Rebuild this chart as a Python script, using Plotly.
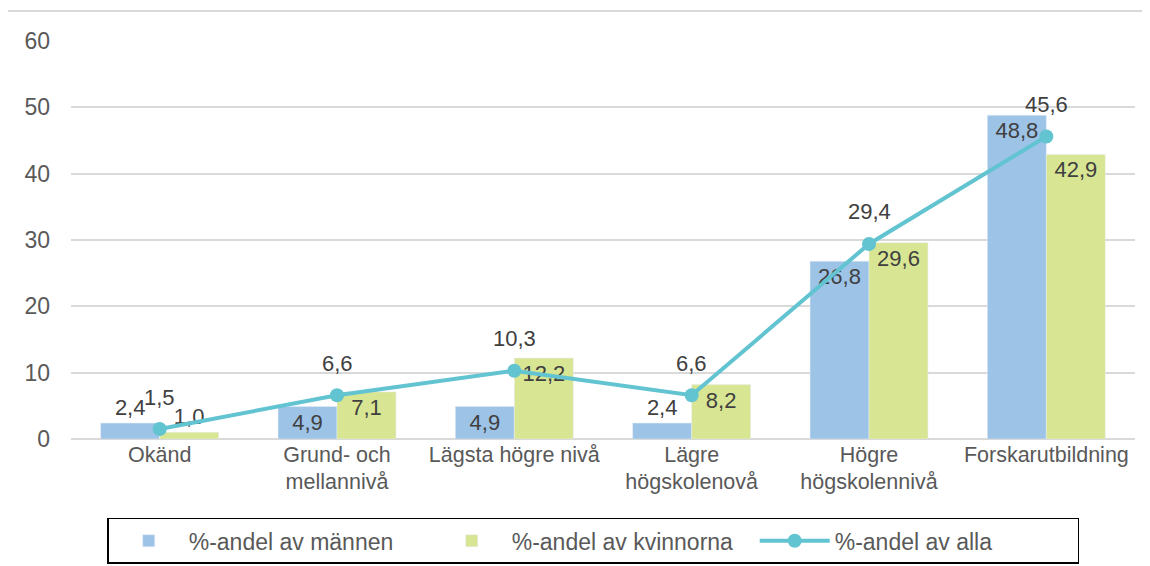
import plotly.graph_objects as go

# education levels
categories = ['Okänd', 'Grund- och<br>mellannivå', 'Lägsta högre nivå',
              'Lägre<br>högskolenovå', 'Högre<br>högskolennivå', 'Forskarutbildning']
men = [2.4, 4.9, 4.9, 2.4, 26.8, 48.8]
women = [1.0, 7.1, 12.2, 8.2, 29.6, 42.9]
everyone = [1.5, 6.6, 10.3, 6.6, 29.4, 45.6]
y_ticks = [0, 10, 20, 30, 40, 50, 60]


def fmt(v):
    return f'{v:.1f}'.replace('.', ',')


FONT = 'Liberation Sans, Arial, sans-serif'
LABEL_COLOR = '#404040'
LABEL_SIZE = 22

fig = go.Figure()
fig.add_trace(go.Bar(x=categories, y=men, name='%-andel av männen',
                     marker=dict(color='#9DC3E6'),
                     text=[fmt(v) for v in men], textposition='auto',
                     insidetextanchor='end',
                     insidetextfont=dict(color=LABEL_COLOR, size=LABEL_SIZE),
                     outsidetextfont=dict(color=LABEL_COLOR, size=LABEL_SIZE),
                     textangle=0, cliponaxis=False))
fig.add_trace(go.Bar(x=categories, y=women, name='%-andel av kvinnorna',
                     marker=dict(color='#D8E693'),
                     text=[fmt(v) for v in women], textposition='auto',
                     insidetextanchor='end',
                     insidetextfont=dict(color=LABEL_COLOR, size=LABEL_SIZE),
                     outsidetextfont=dict(color=LABEL_COLOR, size=LABEL_SIZE),
                     textangle=0, cliponaxis=False))
fig.add_trace(go.Scatter(x=categories, y=everyone, name='%-andel av alla',
                         mode='lines+markers',
                         line=dict(color='#62C3D1', width=4),
                         marker=dict(color='#62C3D1', size=14),
                         cliponaxis=False))

# labels for the line sit well above the points
for c, v in zip(categories, everyone):
    fig.add_annotation(x=c, y=v, text=fmt(v), showarrow=False, yshift=32,
                       font=dict(family=FONT, size=LABEL_SIZE, color=LABEL_COLOR))

# outer chart frame
fig.add_shape(type='rect', xref='paper', yref='paper',
              x0=-0.062, x1=1.05, y0=-0.4, y1=1.0754,
              line=dict(color='#D9D9D9', width=2), layer='below')

fig.update_layout(
    width=1150, height=566,
    margin=dict(l=63, r=23, t=33, b=135, autoexpand=False),
    paper_bgcolor='white', plot_bgcolor='white',
    font=dict(family=FONT, size=22, color='#595959'),
    barmode='group', bargap=0.335, bargroupgap=0,
    legend=dict(orientation='h', x=0.4908, xanchor='center',
                y=-0.198, yanchor='top',
                bordercolor='#000000', borderwidth=1.5,
                font=dict(size=23, color='#595959'),
                itemwidth=70, entrywidth=238, entrywidthmode='pixels'),
)
fig.update_yaxes(range=[0, 60], tickvals=y_ticks, showgrid=True,
                 gridcolor='#D9D9D9', gridwidth=1.5, zeroline=True,
                 zerolinecolor='#D9D9D9', zerolinewidth=1.5,
                 ticks='', ticklabelstandoff=20, showline=False,
                 tickfont=dict(size=23))
fig.update_xaxes(showline=False, ticks='', tickfont=dict(size=21.5))

fig.write_html('out.html')
